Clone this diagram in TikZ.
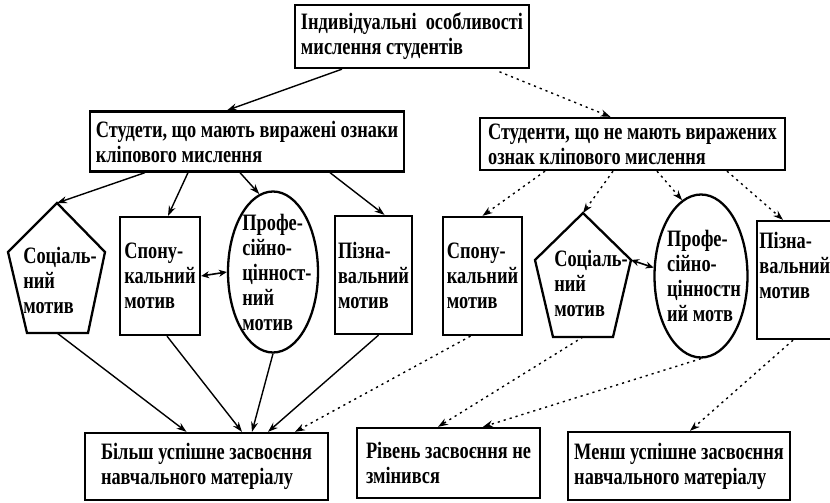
\documentclass[tikz,border=0pt]{standalone}
\usepackage{fontspec}
\setmainfont{Liberation Serif}[FakeStretch=0.78]
\usetikzlibrary{shapes.geometric,arrows.meta}

\begin{document}
\begin{tikzpicture}[x=1pt,y=-1pt,thick,font=\bfseries\fontsize{23.5}{25}\selectfont]
\tikzstyle{box}=[draw,line width=2.3pt,align=left,inner sep=0pt]
\tikzstyle{oval}=[draw,ellipse,line width=2.3pt,inner sep=0pt]
\tikzstyle{lbl}=[align=left,inner sep=0pt]
\tikzstyle{arr}=[-{Stealth[length=10pt,width=7pt]},line width=1.4pt]
\tikzstyle{dotarr}=[arr,dash pattern=on 2.2pt off 4pt]
\tikzstyle{both}=[{Stealth[length=8pt,width=7pt]}-{Stealth[length=8pt,width=7pt]},line width=1.6pt]
\useasboundingbox (0,0) rectangle (830,503);

% top and the two groups
\node[box,minimum width=234pt,minimum height=63pt] (ind) at (412,36.5)
  {Індивідуальні\ \ особливості\\мислення студентів};
\node[box,minimum width=314pt,minimum height=60pt] (clip) at (247,141.5)
  {Студети, що мають виражені ознаки\\кліпового мислення};
\node[box,minimum width=305pt,minimum height=52pt] (noclip) at (632.5,144)
  {Студенти, що не мають виражених\\ознак кліпового мислення};

% motives, left group
\draw[line width=2.3pt] (57,203) coordinate (soc1top) -- (105,252) -- (88,333)
  -- (27,333) -- (8,252) -- cycle;
\coordinate (soc1bot) at (57,333);
\node[lbl] (soc1) at (60,280) {Соціаль-\\ний\\мотив};
\node[box,minimum width=80pt,minimum height=118pt] (spon1) at (160,276)
  {Спону-\\кальний\\мотив};
\node[oval,minimum width=90pt,minimum height=161pt] (prof1) at (273,272) {};
\node[lbl] at ([xshift=4pt]prof1.center) {Профе-\\сійно-\\цінност-\\ний\\мотив};
\node[box,minimum width=77pt,minimum height=118pt] (pizn1) at (373.5,275)
  {Пізна-\\вальний\\мотив};

% motives, right group
\node[box,minimum width=79pt,minimum height=118pt] (spon2) at (482.5,276)
  {Спону-\\кальний\\мотив};
\draw[line width=2.3pt] (583,213) coordinate (soc2top) -- (631,260) coordinate (soc2r)
  -- (613,337) -- (553,337) -- (535,260) -- cycle;
\coordinate (soc2bot) at (583,337);
\node[lbl] (soc2) at (591,283) {Соціаль-\\ний\\мотив};
\node[oval,minimum width=93pt,minimum height=163pt] (prof2) at (701,276) {};
\node[lbl] at ([xshift=3pt]prof2.center) {Профе-\\сійно-\\цінностн\\ий мотв};
\node[box,minimum width=80pt,minimum height=118pt] (pizn2) at (797,280) {};
\node[lbl,anchor=west] at ([xshift=-38pt,yshift=15pt]pizn2.center)
  {Пізна-\\вальний\\мотив};

% results
\node[box,minimum width=243pt,minimum height=67pt] (more) at (206.5,466.5)
  {Більш успішне засвоєння\\навчального матеріалу};
\node[box,minimum width=183pt,minimum height=70pt] (same) at (448.5,463)
  {Рівень засвоєння не\\змінився};
\node[box,minimum width=222pt,minimum height=68pt] (less) at (679,466)
  {Менш успішне засвоєння\\навчального матеріалу};

% connectors
\draw[arr] ([xshift=-70pt]ind.south) -- ([xshift=-20pt]clip.north);
\draw[dotarr,shorten <=7pt] ([xshift=81pt]ind.south) -- ([xshift=-22pt]noclip.north);

\draw[arr] ([xshift=-102pt]clip.south) -- (soc1top);
\draw[arr] ([xshift=-59pt]clip.south) -- ([xshift=8pt]spon1.north);
\draw[arr] ([xshift=-7pt]clip.south) -- (prof1.100);
\draw[arr] ([xshift=83pt]clip.south) -- ([xshift=11pt]pizn1.north);
\draw[both] (spon1.east) -- (prof1.west);

\draw[dotarr] ([xshift=-87.5pt]noclip.south) -- (spon2.north);
\draw[dotarr] ([xshift=-19.5pt]noclip.south) -- (soc2top);
\draw[dotarr] ([xshift=24.5pt]noclip.south) -- (prof2.104);
\draw[dotarr] ([xshift=94.5pt]noclip.south) -- ([xshift=-14pt]pizn2.north);
\draw[both] (soc2r) -- (prof2.170);

\draw[arr] (soc1bot) -- ([xshift=-20pt]more.north);
\draw[arr] ([xshift=7pt]spon1.south) -- ([xshift=35.5pt]more.north);
\draw[arr] (prof1.south) -- ([xshift=45.5pt]more.north);
\draw[arr] ([xshift=5pt]pizn1.south) -- ([xshift=61.5pt]more.north);
\draw[dotarr] ([xshift=-12pt]spon2.south) -- ([xshift=88.5pt]more.north);

\draw[dotarr] (soc2bot) -- ([xshift=-10.5pt]same.north);
\draw[dotarr] (prof2.south) -- ([xshift=34.5pt]same.north);
\draw[dotarr] ([xshift=-4pt]pizn2.south) -- ([xshift=11pt]less.north);
\end{tikzpicture}
\end{document}
